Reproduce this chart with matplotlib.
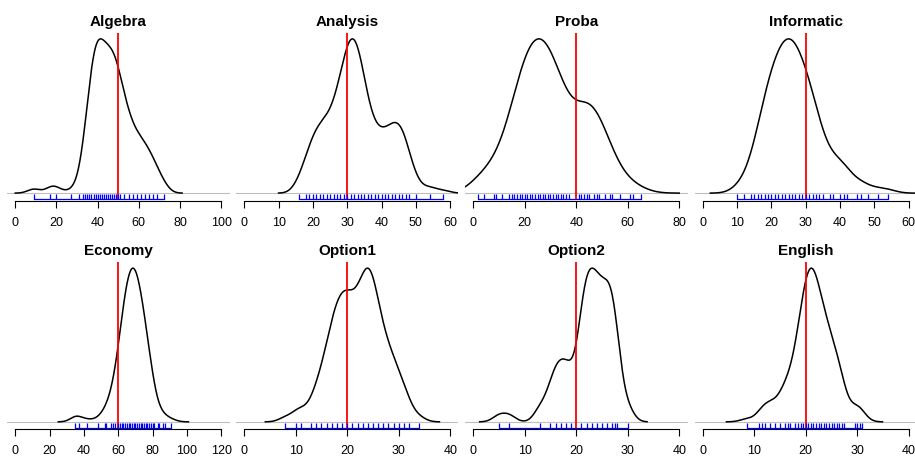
import numpy as np
import matplotlib
matplotlib.use("Agg")
import matplotlib.pyplot as plt
import matplotlib.transforms as mtransforms

plt.rcParams['font.family'] = ['Liberation Sans', 'DejaVu Sans']

# subject names, axis maximum, tick step and red reference mark for each panel
subjects = ["Algebra", "Analysis", "Proba", "Informatic",
            "Economy", "Option1", "Option2", "English"]
axis_max = [100, 60, 80, 60, 120, 40, 40, 40]
tick_step = [20, 10, 20, 10, 20, 10, 10, 10]
ref_mark = [50, 30, 40, 30, 60, 20, 20, 20]
bandwidth = [3.0, 2.0, 5.0, 2.6, 3.3, 1.3, 1.25, 1.3]

# marks seen in the rug and how many students got them (estimated)
algebra_marks = [9, 17, 20, 27, 31, 33, 34, 35, 36, 37, 38, 39, 40, 41, 42, 43, 44, 45,
                 46, 47, 48, 49, 50, 51, 53, 55, 57, 59, 61, 63, 65, 67, 69, 72]
algebra_counts = [2, 2, 2, 1, 2, 3, 4, 6, 8, 10, 11, 12, 12, 11, 10, 10, 10, 10,
                  10, 10, 10, 10, 10, 10, 14, 11, 9, 8, 8, 7, 6, 5, 4, 3]

analysis_marks = [16, 18, 19, 20, 21, 22, 23, 24, 25, 26, 27, 28, 29, 30, 31, 32, 33, 34,
                  35, 36, 37, 38, 39, 40, 41, 42, 43, 44, 45, 46, 47, 48, 50, 54, 58]
analysis_counts = [3, 4, 4, 5, 5, 6, 6, 6, 6, 7, 8, 9, 11, 13, 13, 14, 13, 11,
                   9, 7, 6, 5, 5, 5, 5, 5, 6, 6, 6, 6, 5, 4, 3, 2, 1]

proba_marks = [2, 4, 8, 9, 11, 14, 15, 16, 17, 18, 19, 20, 21, 22, 23, 24, 25, 26, 27,
               28, 29, 30, 31, 32, 33, 34, 35, 36, 37, 41, 42, 43, 44, 45, 47, 48, 49,
               51, 53, 54, 57, 61, 62, 65]
proba_counts = [4, 3, 4, 3, 5, 5, 5, 6, 6, 7, 7, 8, 8, 8, 8, 9, 9, 9, 9,
                9, 8, 8, 7, 7, 6, 6, 6, 6, 7, 9, 6, 6, 6, 7, 7, 7, 6,
                6, 5, 3, 3, 2, 1, 1]

informatic_marks = [10, 12, 14, 15, 16, 17, 18, 19, 20, 21, 22, 23, 24, 25, 26, 27, 28,
                    29, 30, 31, 32, 33, 34, 35, 37, 38, 40, 41, 42, 45, 46, 48, 51, 54]
informatic_counts = [1, 2, 2, 3, 4, 5, 6, 7, 8, 8, 9, 9, 10, 10, 10, 9, 9,
                     8, 8, 7, 6, 5, 5, 4, 4, 3, 3, 3, 2, 2, 1, 1, 1, 1]

economy_marks = [35, 37, 42, 48, 52, 53, 56, 57, 58, 60, 61, 62, 63, 64, 65, 66, 67, 68,
                 69, 70, 71, 72, 73, 74, 75, 76, 77, 78, 79, 80, 81, 83, 84, 86, 87, 91]
economy_counts = [2, 1, 1, 1, 2, 2, 3, 3, 4, 6, 6, 7, 8, 9, 10, 10, 11, 11,
                  11, 11, 10, 10, 9, 8, 7, 6, 6, 5, 4, 3, 2, 1, 1, 1, 1, 1]

option1_marks = [8, 10, 11, 13, 14, 15, 16, 17, 18, 19, 20, 21, 22, 23, 24, 25, 26, 27,
                 28, 29, 30, 31, 32, 34]
option1_counts = [1, 1, 2, 2, 3, 4, 6, 8, 10, 10, 11, 9, 10, 11, 14, 12, 9, 7,
                  6, 5, 4, 3, 2, 1]

option2_marks = [5, 7, 13, 15, 16, 17, 18, 19, 21, 22, 23, 24, 25, 26, 27, 27.5, 28, 30]
option2_counts = [1, 1, 2, 3, 3, 4, 3, 4, 9, 8, 9, 8, 7, 8, 7, 3, 4, 2]

english_marks = [8.5, 11, 11.5, 12, 13, 14, 15, 16, 16.5, 17, 18, 18.5, 19, 19.5, 20,
                 20.5, 21, 21.5, 22, 22.5, 23, 23.5, 24, 24.5, 25, 25.5, 26, 26.5, 27,
                 27.5, 29.5, 30, 30.5, 31]
english_counts = [1, 1, 1, 2, 3, 2, 3, 4, 3, 4, 5, 6, 7, 8, 9,
                  10, 12, 10, 9, 8, 7, 7, 6, 6, 5, 4, 5, 4, 3,
                  3, 2, 2, 1, 1]

marks = [algebra_marks, analysis_marks, proba_marks, informatic_marks,
         economy_marks, option1_marks, option2_marks, english_marks]
counts = [algebra_counts, analysis_counts, proba_counts, informatic_counts,
          economy_counts, option1_counts, option2_counts, english_counts]


def kde(values, weights, bw):
    """Gaussian kernel density, evaluated like R's density() (cut = 3)."""
    values = np.asarray(values, dtype=float)
    weights = np.asarray(weights, dtype=float)
    weights = weights / weights.sum()
    grid = np.linspace(values.min() - 3 * bw, values.max() + 3 * bw, 512)
    z = (grid[:, None] - values[None, :]) / bw
    dens = (np.exp(-0.5 * z ** 2) * weights).sum(axis=1) / (bw * np.sqrt(2 * np.pi))
    return grid, dens


W, H = 915, 457
fig = plt.figure(figsize=(W / 100, H / 100), dpi=100)

# plot regions in pixels, like R's mfrow = c(2, 4) with small margins
panel_w = 222.5
col_left = [7, 236, 465, 694.5]
row_top = [32.7, 262.0]
row_bottom = [199.3, 428.0]

for i, name in enumerate(subjects):
    r, c = divmod(i, 4)
    left = col_left[c]
    bottom = H - row_bottom[r]
    height = row_bottom[r] - row_top[r]
    ax = fig.add_axes([left / W, bottom / H, panel_w / W, height / H])

    gx, gy = kde(marks[i], counts[i], bandwidth[i])
    top = gy.max()
    xm = axis_max[i]
    ax.set_xlim(-0.04 * xm, 1.04 * xm)
    ax.set_ylim(-0.04 * top, 1.04 * top)

    ax.axhline(0, color="#BEBEBE", lw=0.8, zorder=1)
    ax.plot(gx, gy, color="black", lw=1.1, zorder=3)

    # rug along the bottom of the plot region
    trans = mtransforms.blended_transform_factory(ax.transData, ax.transAxes)
    for m in marks[i]:
        ax.plot([m, m], [0, 0.032], color="blue", lw=0.9, transform=trans,
                solid_capstyle="butt", zorder=5)
    ax.plot([min(marks[i]), max(marks[i])], [0, 0], color="blue", lw=0.9,
            transform=trans, zorder=5, clip_on=False)

    ax.axvline(ref_mark[i], color="red", lw=1.3, zorder=4)

    for side in ["top", "right", "left"]:
        ax.spines[side].set_visible(False)
    ax.spines["bottom"].set_position(("outward", 1.0))
    ax.spines["bottom"].set_bounds(0, xm)
    ax.spines["bottom"].set_linewidth(0.8)
    ticks = np.arange(0, xm + 1, tick_step[i])
    ax.set_xticks(ticks)
    ax.set_xticklabels([str(t) for t in ticks])
    ax.tick_params(axis="x", direction="out", length=5, width=0.8, pad=6.5,
                   labelsize=9)
    ax.set_yticks([])
    ax.set_title(name, fontsize=11, fontweight="bold", pad=5)

fig.savefig("out.png", dpi=100)
